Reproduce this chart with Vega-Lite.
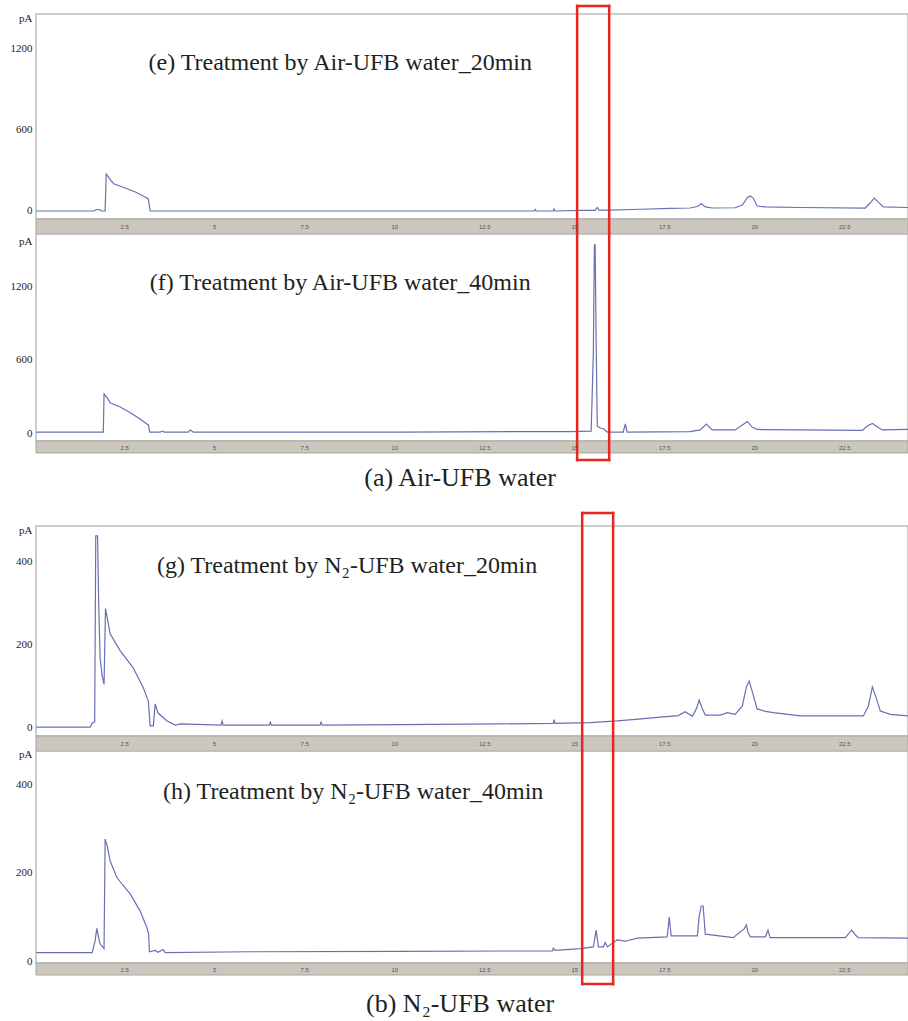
{
  "$schema": "https://vega.github.io/schema/vega-lite/v6.json",
  "padding": {"left": 9, "top": 3, "right": 0, "bottom": 4},
  "bounds": "flush",
  "spacing": 15,
  "config": {
    "view": {"stroke": "#bdbdbd", "strokeWidth": 1.5},
    "font": "Liberation Serif"
  },
  "datasets": {
    "e": [{"t":0.06,"pA":0},{"t":1.67,"pA":0},{"t":1.72,"pA":11},{"t":1.81,"pA":11},{"t":1.86,"pA":0},{"t":1.97,"pA":0},{"t":2.0,"pA":274},{"t":2.06,"pA":252},{"t":2.14,"pA":222},{"t":2.22,"pA":200},{"t":2.53,"pA":170},{"t":2.81,"pA":141},{"t":3.08,"pA":104},{"t":3.17,"pA":89},{"t":3.22,"pA":0},{"t":7.39,"pA":0},{"t":13.89,"pA":0},{"t":13.92,"pA":11},{"t":13.94,"pA":0},{"t":14.42,"pA":0},{"t":14.44,"pA":15},{"t":14.47,"pA":0},{"t":15.17,"pA":4},{"t":15.58,"pA":5},{"t":15.64,"pA":26},{"t":15.69,"pA":7},{"t":16.0,"pA":7},{"t":16.83,"pA":13},{"t":17.67,"pA":19},{"t":18.22,"pA":22},{"t":18.42,"pA":33},{"t":18.53,"pA":54},{"t":18.64,"pA":30},{"t":18.83,"pA":22},{"t":19.47,"pA":24},{"t":19.67,"pA":44},{"t":19.81,"pA":100},{"t":19.89,"pA":111},{"t":19.97,"pA":96},{"t":20.08,"pA":37},{"t":20.31,"pA":30},{"t":21.28,"pA":26},{"t":23.08,"pA":22},{"t":23.22,"pA":59},{"t":23.33,"pA":96},{"t":23.44,"pA":67},{"t":23.58,"pA":30},{"t":24.27,"pA":26}],
    "f": [{"t":0.06,"pA":8},{"t":1.92,"pA":8},{"t":1.94,"pA":320},{"t":2.03,"pA":288},{"t":2.11,"pA":249},{"t":2.39,"pA":214},{"t":2.67,"pA":167},{"t":2.94,"pA":115},{"t":3.11,"pA":78},{"t":3.17,"pA":66},{"t":3.21,"pA":8},{"t":3.5,"pA":8},{"t":3.56,"pA":16},{"t":3.61,"pA":8},{"t":4.28,"pA":8},{"t":4.33,"pA":25},{"t":4.42,"pA":8},{"t":10.17,"pA":8},{"t":14.89,"pA":12},{"t":15.47,"pA":16},{"t":15.53,"pA":657},{"t":15.56,"pA":1545},{"t":15.58,"pA":1545},{"t":15.61,"pA":700},{"t":15.64,"pA":58},{"t":15.72,"pA":41},{"t":15.81,"pA":35},{"t":15.92,"pA":8},{"t":16.36,"pA":8},{"t":16.42,"pA":74},{"t":16.47,"pA":8},{"t":18.22,"pA":12},{"t":18.5,"pA":25},{"t":18.67,"pA":74},{"t":18.83,"pA":25},{"t":19.47,"pA":25},{"t":19.67,"pA":66},{"t":19.81,"pA":95},{"t":19.94,"pA":49},{"t":20.08,"pA":29},{"t":21.28,"pA":25},{"t":23.0,"pA":21},{"t":23.14,"pA":58},{"t":23.28,"pA":78},{"t":23.42,"pA":49},{"t":23.56,"pA":25},{"t":24.27,"pA":29}],
    "g": [{"t":0.06,"pA":2},{"t":1.56,"pA":2},{"t":1.61,"pA":12},{"t":1.68,"pA":14},{"t":1.71,"pA":463},{"t":1.76,"pA":463},{"t":1.79,"pA":306},{"t":1.83,"pA":169},{"t":1.89,"pA":125},{"t":1.94,"pA":105},{"t":1.98,"pA":288},{"t":2.11,"pA":227},{"t":2.39,"pA":186},{"t":2.75,"pA":145},{"t":3.03,"pA":97},{"t":3.17,"pA":65},{"t":3.22,"pA":5},{"t":3.31,"pA":5},{"t":3.36,"pA":58},{"t":3.44,"pA":36},{"t":3.69,"pA":17},{"t":3.92,"pA":7},{"t":4.06,"pA":10},{"t":5.19,"pA":7},{"t":5.22,"pA":17},{"t":5.25,"pA":7},{"t":6.53,"pA":7},{"t":6.56,"pA":14},{"t":6.59,"pA":7},{"t":7.94,"pA":7},{"t":7.97,"pA":14},{"t":8.0,"pA":7},{"t":10.17,"pA":8},{"t":12.94,"pA":10},{"t":14.42,"pA":11},{"t":14.44,"pA":20},{"t":14.47,"pA":11},{"t":15.44,"pA":13},{"t":16.19,"pA":17},{"t":16.86,"pA":22},{"t":17.47,"pA":27},{"t":17.89,"pA":30},{"t":18.08,"pA":39},{"t":18.28,"pA":28},{"t":18.39,"pA":46},{"t":18.47,"pA":67},{"t":18.56,"pA":46},{"t":18.64,"pA":31},{"t":19.06,"pA":31},{"t":19.25,"pA":37},{"t":19.47,"pA":33},{"t":19.67,"pA":53},{"t":19.78,"pA":99},{"t":19.86,"pA":113},{"t":19.94,"pA":89},{"t":20.08,"pA":46},{"t":20.31,"pA":40},{"t":20.53,"pA":37},{"t":21.28,"pA":29},{"t":23.03,"pA":29},{"t":23.17,"pA":53},{"t":23.28,"pA":99},{"t":23.39,"pA":72},{"t":23.5,"pA":41},{"t":23.78,"pA":33},{"t":24.27,"pA":29}],
    "h": [{"t":0.06,"pA":19},{"t":1.61,"pA":19},{"t":1.69,"pA":45},{"t":1.74,"pA":74},{"t":1.78,"pA":57},{"t":1.83,"pA":39},{"t":1.94,"pA":28},{"t":1.97,"pA":277},{"t":2.03,"pA":261},{"t":2.11,"pA":227},{"t":2.3,"pA":189},{"t":2.67,"pA":152},{"t":2.94,"pA":114},{"t":3.13,"pA":76},{"t":3.18,"pA":61},{"t":3.2,"pA":21},{"t":3.36,"pA":24},{"t":3.44,"pA":20},{"t":3.58,"pA":26},{"t":3.64,"pA":19},{"t":6.0,"pA":21},{"t":10.17,"pA":22},{"t":14.39,"pA":23},{"t":14.42,"pA":29},{"t":14.47,"pA":24},{"t":15.17,"pA":28},{"t":15.53,"pA":32},{"t":15.61,"pA":70},{"t":15.67,"pA":32},{"t":15.81,"pA":32},{"t":15.86,"pA":42},{"t":15.92,"pA":32},{"t":16.19,"pA":48},{"t":16.42,"pA":45},{"t":16.75,"pA":52},{"t":17.58,"pA":55},{"t":17.64,"pA":100},{"t":17.69,"pA":57},{"t":18.42,"pA":57},{"t":18.47,"pA":102},{"t":18.53,"pA":125},{"t":18.58,"pA":125},{"t":18.64,"pA":61},{"t":19.42,"pA":53},{"t":19.53,"pA":61},{"t":19.72,"pA":73},{"t":19.78,"pA":82},{"t":19.83,"pA":64},{"t":19.89,"pA":55},{"t":20.31,"pA":55},{"t":20.38,"pA":70},{"t":20.44,"pA":53},{"t":22.53,"pA":53},{"t":22.64,"pA":64},{"t":22.71,"pA":70},{"t":22.81,"pA":59},{"t":22.89,"pA":53},{"t":24.27,"pA":52}]
  },
  "vconcat": [
    {
      "width": 872, "height": 205,
      "layer": [
        {"data": {"values": [{}]}, "mark": {"type": "rect", "color": "#cbc7bf", "stroke": "#aaa69e", "strokeWidth": 1},
         "encoding": {"x": {"datum": 0.05}, "x2": {"datum": 24.27}, "y": {"datum": -59.3}, "y2": {"datum": -170}}},
        {"data": {"name": "e"}, "mark": {"type": "line", "color": "#6870b3", "strokeWidth": 1.2},
         "encoding": {
           "x": {"field": "t", "type": "quantitative", "scale": {"domain": [0.05, 24.27], "nice": false, "zero": false},
                 "axis": {"values": [2.5,5,7.5,10,12.5,15,17.5,20,22.5], "format": ".3~g", "title": null, "grid": false, "ticks": false, "domain": false, "zindex": 1, "labelFont": "Liberation Sans", "labelFontSize": 6, "labelColor": "#555555", "labelPadding": 7, "labelBaseline": "middle", "labelFlush": false}},
           "y": {"field": "pA", "type": "quantitative", "scale": {"domain": [-59.3, 1459], "nice": false, "zero": false},
                 "axis": {"values": [0,600,1200], "format": "d", "grid": false, "ticks": false, "domain": false, "labelFont": "Liberation Serif", "labelFontSize": 11, "labelColor": "#222222", "labelPadding": 4, "title": "pA", "titleAngle": 0, "titleAlign": "right", "titleBaseline": "middle", "titleX": -4, "titleY": 4, "titleFont": "Liberation Serif", "titleFontSize": 11, "titleFontWeight": "normal", "titleColor": "#222222"}}
         }},
        {"data": {"values": [{}]}, "mark": {"type": "rule", "color": "#e8251f", "strokeWidth": 2.5, "strokeCap": "square"}, "encoding": {"x": {"datum": 15.08}, "y": {"datum": 1519}, "y2": {"datum": -170}}},
        {"data": {"values": [{}]}, "mark": {"type": "rule", "color": "#e8251f", "strokeWidth": 2.5, "strokeCap": "square"}, "encoding": {"x": {"datum": 15.97}, "y": {"datum": 1519}, "y2": {"datum": -170}}},
        {"data": {"values": [{}]}, "mark": {"type": "rule", "color": "#e8251f", "strokeWidth": 2.5, "strokeCap": "square"}, "encoding": {"x": {"datum": 15.08}, "x2": {"datum": 15.97}, "y": {"datum": 1519}}},
        {"data": {"values": [{}]}, "mark": {"type": "text", "font": "Liberation Serif", "fontSize": 24, "color": "#231f20"}, "encoding": {"x": {"datum": 8.5}, "y": {"datum": 1096}, "text": {"value": "(e) Treatment by Air-UFB water_20min"}}}
      ]
    },
    {
      "width": 872, "height": 207,
      "layer": [
        {"data": {"values": [{}]}, "mark": {"type": "rect", "color": "#cbc7bf", "stroke": "#aaa69e", "strokeWidth": 1},
         "encoding": {"x": {"datum": 0.05}, "x2": {"datum": 24.27}, "y": {"datum": -65.7}, "y2": {"datum": -164}}},
        {"data": {"name": "f"}, "mark": {"type": "line", "color": "#6870b3", "strokeWidth": 1.2},
         "encoding": {
           "x": {"field": "t", "type": "quantitative", "scale": {"domain": [0.05, 24.27], "nice": false, "zero": false},
                 "axis": {"values": [2.5,5,7.5,10,12.5,15,17.5,20,22.5], "format": ".3~g", "title": null, "grid": false, "ticks": false, "domain": false, "zindex": 1, "labelFont": "Liberation Sans", "labelFontSize": 6, "labelColor": "#555555", "labelPadding": 6, "labelBaseline": "middle", "labelFlush": false}},
           "y": {"field": "pA", "type": "quantitative", "scale": {"domain": [-65.7, 1635], "nice": false, "zero": false},
                 "axis": {"values": [0,600,1200], "format": "d", "grid": false, "ticks": false, "domain": false, "labelFont": "Liberation Serif", "labelFontSize": 11, "labelColor": "#222222", "labelPadding": 4, "title": "pA", "titleAngle": 0, "titleAlign": "right", "titleBaseline": "middle", "titleX": -4, "titleY": 7, "titleFont": "Liberation Serif", "titleFontSize": 11, "titleFontWeight": "normal", "titleColor": "#222222"}}
         }},
        {"data": {"values": [{}]}, "mark": {"type": "rule", "color": "#e8251f", "strokeWidth": 2.5, "strokeCap": "square"}, "encoding": {"x": {"datum": 15.08}, "y": {"datum": 1635}, "y2": {"datum": -222}}},
        {"data": {"values": [{}]}, "mark": {"type": "rule", "color": "#e8251f", "strokeWidth": 2.5, "strokeCap": "square"}, "encoding": {"x": {"datum": 15.97}, "y": {"datum": 1635}, "y2": {"datum": -222}}},
        {"data": {"values": [{}]}, "mark": {"type": "rule", "color": "#e8251f", "strokeWidth": 2.5, "strokeCap": "square"}, "encoding": {"x": {"datum": 15.08}, "x2": {"datum": 15.97}, "y": {"datum": -222}}},
        {"data": {"values": [{}]}, "mark": {"type": "text", "font": "Liberation Serif", "fontSize": 24, "color": "#231f20"}, "encoding": {"x": {"datum": 8.5}, "y": {"datum": 1232}, "text": {"value": "(f) Treatment by Air-UFB water_40min"}}}
      ]
    },
    {
      "width": 872, "height": 55, "view": {"stroke": null},
      "data": {"values": [{}]},
      "mark": {"type": "text", "font": "Liberation Serif", "fontSize": 26, "color": "#231f20"},
      "encoding": {
        "x": {"datum": 11.83, "type": "quantitative", "scale": {"domain": [0.05, 24.27], "nice": false, "zero": false}, "axis": null},
        "y": {"datum": 0.6, "type": "quantitative", "scale": {"domain": [0, 1], "nice": false, "zero": false}, "axis": null},
        "text": {"value": "(a) Air-UFB water"}
      }
    },
    {
      "width": 872, "height": 210,
      "layer": [
        {"data": {"values": [{}]}, "mark": {"type": "rect", "color": "#cbc7bf", "stroke": "#aaa69e", "strokeWidth": 1},
         "encoding": {"x": {"datum": 0.05}, "x2": {"datum": 24.27}, "y": {"datum": -19.3}, "y2": {"datum": -55.4}}},
        {"data": {"name": "g"}, "mark": {"type": "line", "color": "#6870b3", "strokeWidth": 1.2},
         "encoding": {
           "x": {"field": "t", "type": "quantitative", "scale": {"domain": [0.05, 24.27], "nice": false, "zero": false},
                 "axis": {"values": [2.5,5,7.5,10,12.5,15,17.5,20,22.5], "format": ".3~g", "title": null, "grid": false, "ticks": false, "domain": false, "zindex": 1, "labelFont": "Liberation Sans", "labelFontSize": 6, "labelColor": "#555555", "labelPadding": 7, "labelBaseline": "middle", "labelFlush": false}},
           "y": {"field": "pA", "type": "quantitative", "scale": {"domain": [-19.3, 486.7], "nice": false, "zero": false},
                 "axis": {"values": [0,200,400], "format": "d", "grid": false, "ticks": false, "domain": false, "labelFont": "Liberation Serif", "labelFontSize": 11, "labelColor": "#222222", "labelPadding": 4, "title": "pA", "titleAngle": 0, "titleAlign": "right", "titleBaseline": "middle", "titleX": -4, "titleY": 4, "titleFont": "Liberation Serif", "titleFontSize": 11, "titleFontWeight": "normal", "titleColor": "#222222"}}
         }},
        {"data": {"values": [{}]}, "mark": {"type": "rule", "color": "#e8251f", "strokeWidth": 2.5, "strokeCap": "square"}, "encoding": {"x": {"datum": 15.22}, "y": {"datum": 518}, "y2": {"datum": -55.4}}},
        {"data": {"values": [{}]}, "mark": {"type": "rule", "color": "#e8251f", "strokeWidth": 2.5, "strokeCap": "square"}, "encoding": {"x": {"datum": 16.08}, "y": {"datum": 518}, "y2": {"datum": -55.4}}},
        {"data": {"values": [{}]}, "mark": {"type": "rule", "color": "#e8251f", "strokeWidth": 2.5, "strokeCap": "square"}, "encoding": {"x": {"datum": 15.22}, "x2": {"datum": 16.08}, "y": {"datum": 518}}},
        {"data": {"values": [{}]}, "mark": {"type": "text", "font": "Liberation Serif", "fontSize": 24, "color": "#231f20"}, "encoding": {"x": {"datum": 8.69}, "y": {"datum": 390}, "text": {"value": "(g) Treatment by N₂-UFB water_20min"}}}
      ]
    },
    {
      "width": 872, "height": 212,
      "layer": [
        {"data": {"values": [{}]}, "mark": {"type": "rect", "color": "#cbc7bf", "stroke": "#aaa69e", "strokeWidth": 1},
         "encoding": {"x": {"datum": 0.05}, "x2": {"datum": 24.27}, "y": {"datum": -4.5}, "y2": {"datum": -31.8}}},
        {"data": {"name": "h"}, "mark": {"type": "line", "color": "#6870b3", "strokeWidth": 1.2},
         "encoding": {
           "x": {"field": "t", "type": "quantitative", "scale": {"domain": [0.05, 24.27], "nice": false, "zero": false},
                 "axis": {"values": [2.5,5,7.5,10,12.5,15,17.5,20,22.5], "format": ".3~g", "title": null, "grid": false, "ticks": false, "domain": false, "zindex": 1, "labelFont": "Liberation Sans", "labelFontSize": 6, "labelColor": "#555555", "labelPadding": 6, "labelBaseline": "middle", "labelFlush": false}},
           "y": {"field": "pA", "type": "quantitative", "scale": {"domain": [-4.5, 477], "nice": false, "zero": false},
                 "axis": {"values": [0,200,400], "format": "d", "grid": false, "ticks": false, "domain": false, "labelFont": "Liberation Serif", "labelFontSize": 11, "labelColor": "#222222", "labelPadding": 4, "title": "pA", "titleAngle": 0, "titleAlign": "right", "titleBaseline": "middle", "titleX": -4, "titleY": 3, "titleFont": "Liberation Serif", "titleFontSize": 11, "titleFontWeight": "normal", "titleColor": "#222222"}}
         }},
        {"data": {"values": [{}]}, "mark": {"type": "rule", "color": "#e8251f", "strokeWidth": 2.5, "strokeCap": "square"}, "encoding": {"x": {"datum": 15.22}, "y": {"datum": 477}, "y2": {"datum": -52.3}}},
        {"data": {"values": [{}]}, "mark": {"type": "rule", "color": "#e8251f", "strokeWidth": 2.5, "strokeCap": "square"}, "encoding": {"x": {"datum": 16.08}, "y": {"datum": 477}, "y2": {"datum": -52.3}}},
        {"data": {"values": [{}]}, "mark": {"type": "rule", "color": "#e8251f", "strokeWidth": 2.5, "strokeCap": "square"}, "encoding": {"x": {"datum": 15.22}, "x2": {"datum": 16.08}, "y": {"datum": -52.3}}},
        {"data": {"values": [{}]}, "mark": {"type": "text", "font": "Liberation Serif", "fontSize": 24, "color": "#231f20"}, "encoding": {"x": {"datum": 8.86}, "y": {"datum": 384}, "text": {"value": "(h) Treatment by N₂-UFB water_40min"}}}
      ]
    },
    {
      "width": 872, "height": 40, "view": {"stroke": null},
      "data": {"values": [{}]},
      "mark": {"type": "text", "font": "Liberation Serif", "fontSize": 26, "color": "#231f20"},
      "encoding": {
        "x": {"datum": 11.83, "type": "quantitative", "scale": {"domain": [0.05, 24.27], "nice": false, "zero": false}, "axis": null},
        "y": {"datum": 0.35, "type": "quantitative", "scale": {"domain": [0, 1], "nice": false, "zero": false}, "axis": null},
        "text": {"value": "(b) N₂-UFB water"}
      }
    }
  ]
}
